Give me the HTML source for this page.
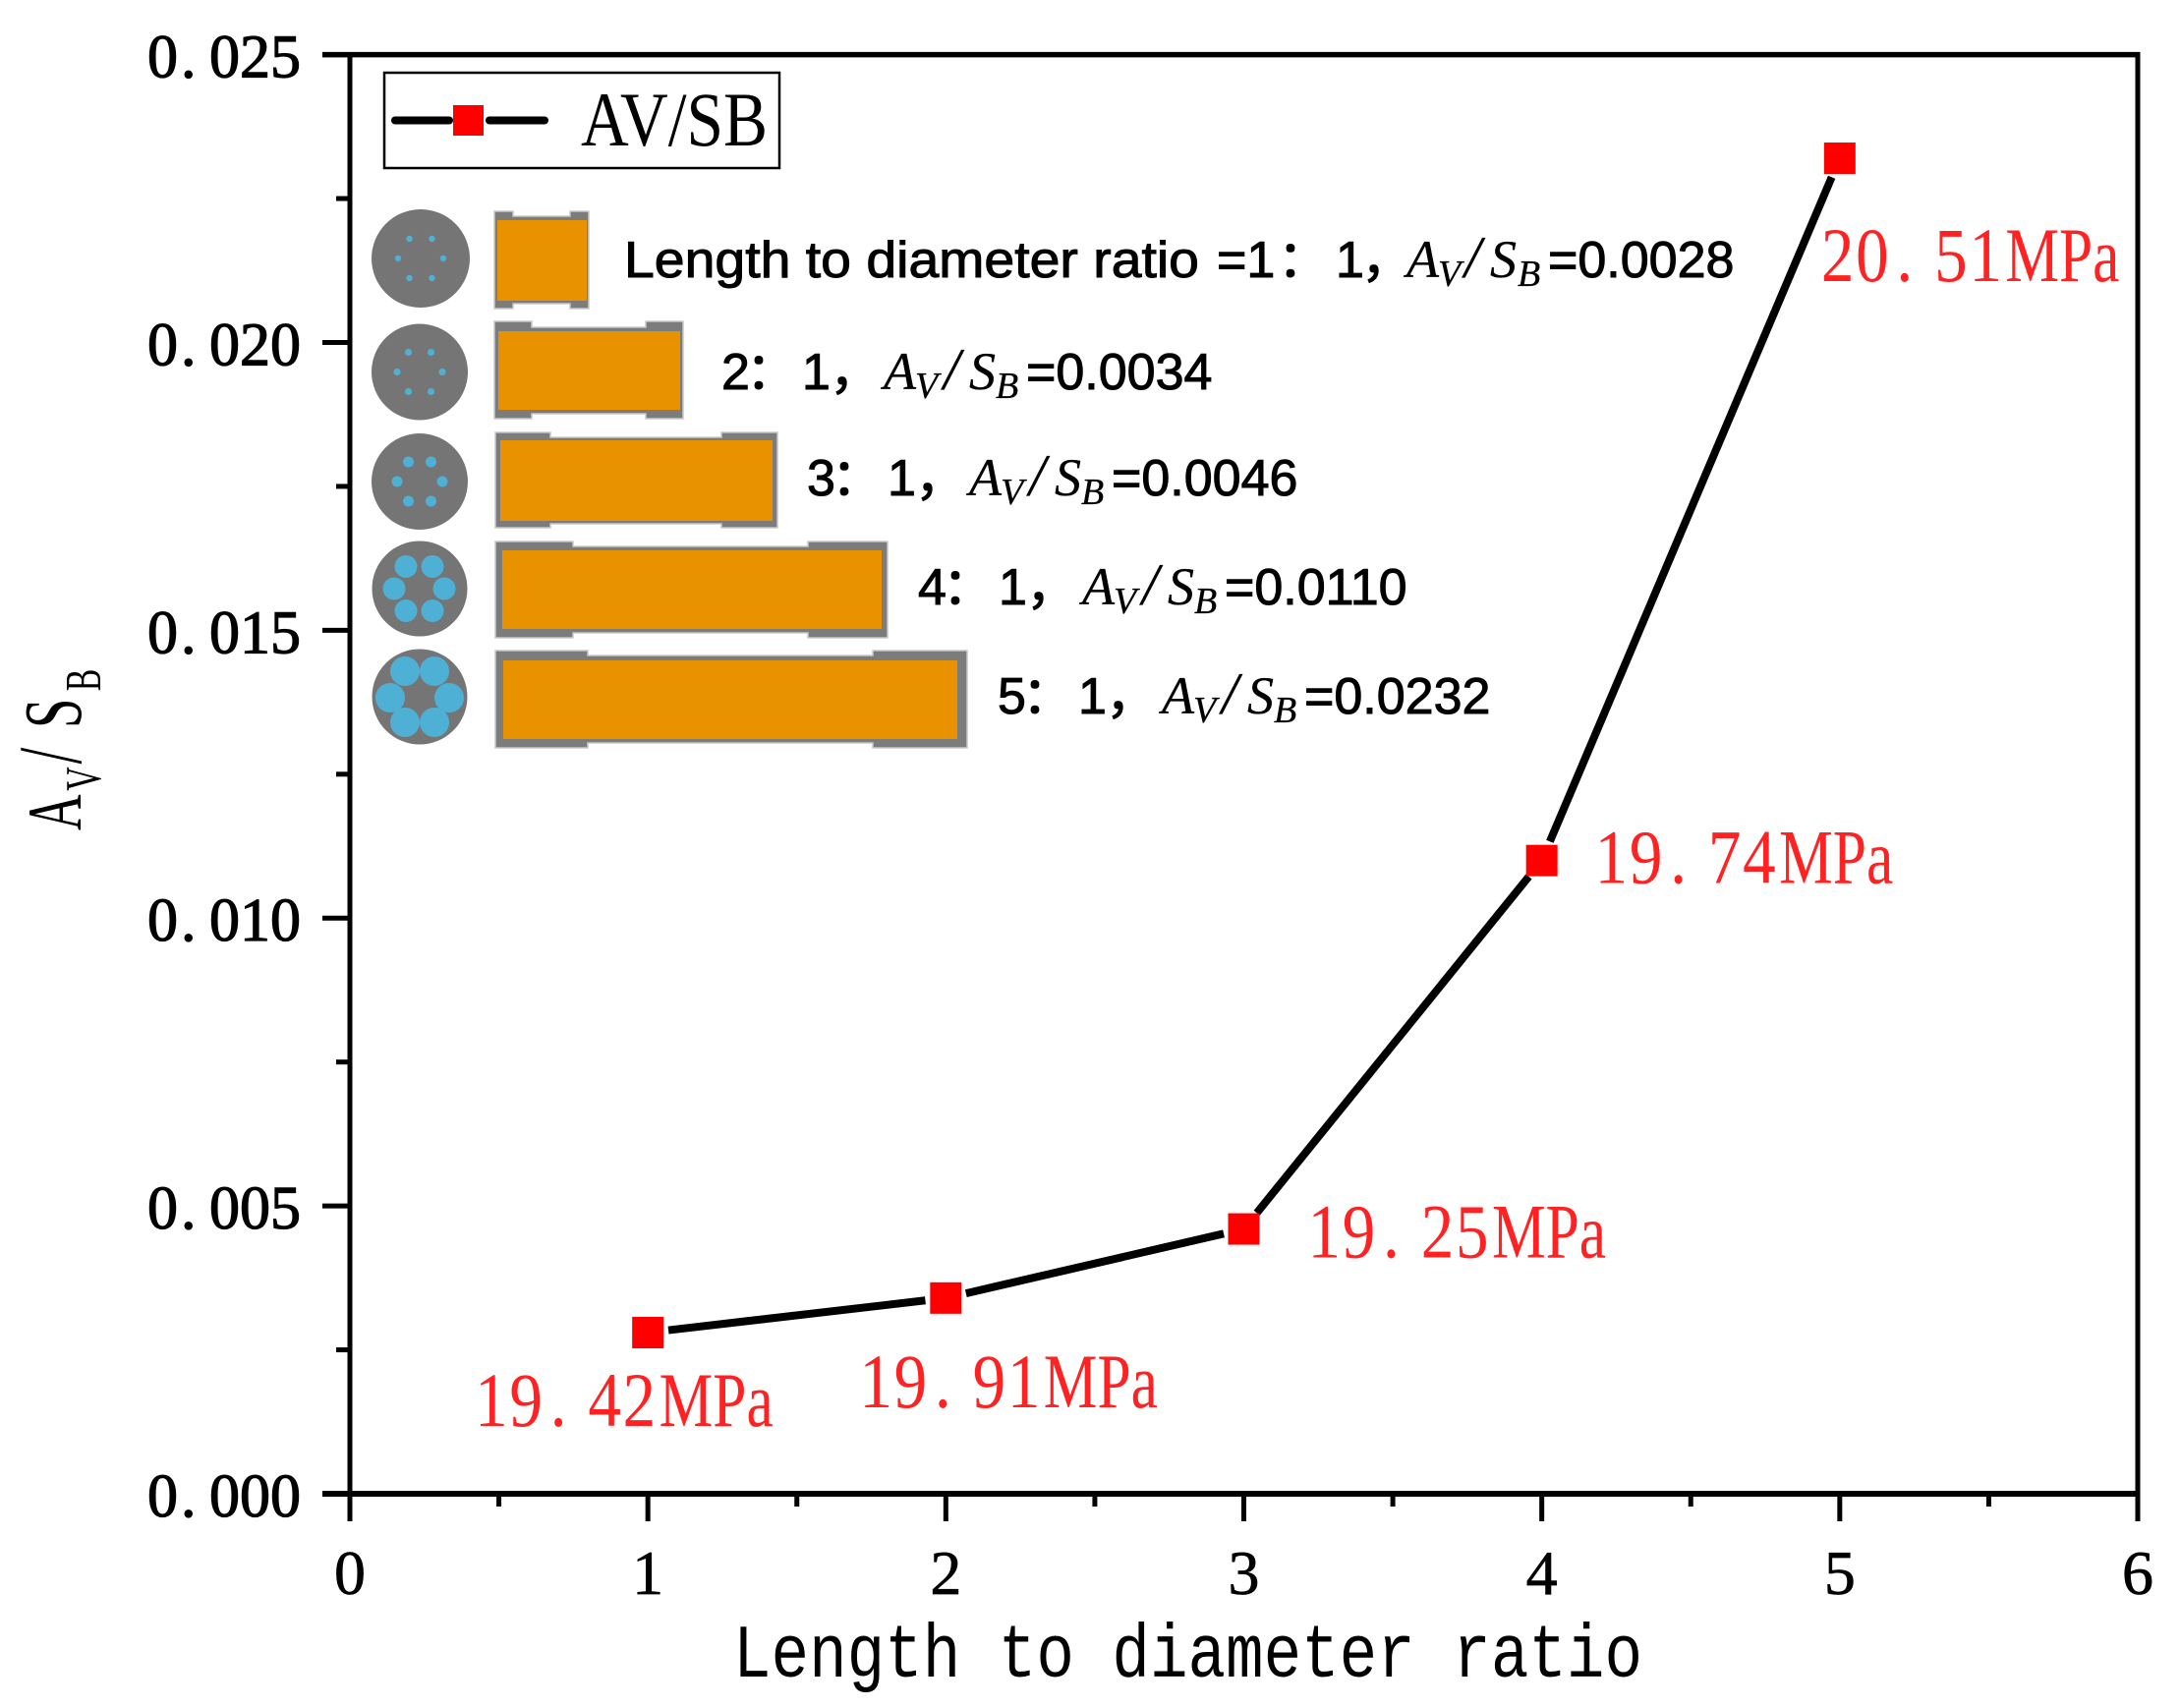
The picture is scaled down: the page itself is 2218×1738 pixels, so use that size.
<!DOCTYPE html>
<html lang="en">
<head>
<meta charset="utf-8">
<title>AV/SB vs length to diameter ratio</title>
<style>
html,body{margin:0;padding:0;background:#fff;width:2218px;height:1738px;overflow:hidden}
svg{display:block}
.serif{font-family:"Liberation Serif","Noto Serif CJK SC",serif}
.sans{font-family:"Liberation Sans","Noto Sans CJK SC",sans-serif;font-size:52px;fill:#000;stroke:#000;stroke-width:1px}
.math{font-family:"Liberation Serif",serif;font-style:italic;stroke-width:.3px}
</style>
</head>
<body>
<svg id="chart" xmlns="http://www.w3.org/2000/svg" width="2218" height="1738" viewBox="0 0 2218 1738">
  <rect x="0" y="0" width="2218" height="1738" fill="#fff"/>

  <g id="axes"></g>

  <g>
    <rect x="391" y="74" width="402" height="97" fill="#fff" stroke="#000" stroke-width="2.5"/>
    <line x1="402" y1="122.5" x2="457" y2="122.5" stroke="#000" stroke-width="8" stroke-linecap="round"/>
    <line x1="498" y1="122.5" x2="554" y2="122.5" stroke="#000" stroke-width="8" stroke-linecap="round"/>
    <rect x="461" y="107" width="31" height="31" fill="#f00"/>
    <text class="serif" x="591" y="148" font-size="78" textLength="190" lengthAdjust="spacingAndGlyphs">AV/SB</text>
  </g>

  <g>
    <g>
      <circle cx="428" cy="263" r="50" fill="#757575"/>
      <g transform="translate(428,263)" fill="#4fb0d6">
        <circle cx="-11.5" cy="-20" r="3.2"/><circle cx="11.5" cy="-20" r="3.2"/><circle cx="-23" cy="0" r="3.2"/><circle cx="23" cy="0" r="3.2"/><circle cx="-11.5" cy="20" r="3.2"/><circle cx="11.5" cy="20" r="3.2"/>
      </g>
      <path d="M503 215H522V220H580V215H599V314H580V309H522V314H503Z" fill="#7c7c7c" stroke="#c8c8c8" stroke-width="1.5"/>
      <rect x="506" y="224" width="91" height="82" fill="#e89200"/>
    </g>
    <g>
      <circle cx="427" cy="378.5" r="49" fill="#757575"/>
      <g transform="translate(427,378.5)" fill="#4fb0d6">
        <circle cx="-11.5" cy="-20" r="3.6"/><circle cx="11.5" cy="-20" r="3.6"/><circle cx="-23" cy="0" r="3.6"/><circle cx="23" cy="0" r="3.6"/><circle cx="-11.5" cy="20" r="3.6"/><circle cx="11.5" cy="20" r="3.6"/>
      </g>
      <path d="M503 327H541V333H657V327H695V426H657V421H541V426H503Z" fill="#7c7c7c" stroke="#c8c8c8" stroke-width="1.5"/>
      <rect x="507" y="337" width="185" height="80" fill="#e89200"/>
    </g>
    <g>
      <circle cx="427" cy="490" r="49" fill="#757575"/>
      <g transform="translate(427,490)" fill="#4fb0d6">
        <circle cx="-11.5" cy="-20" r="5.5"/><circle cx="11.5" cy="-20" r="5.5"/><circle cx="-23" cy="0" r="5.5"/><circle cx="23" cy="0" r="5.5"/><circle cx="-11.5" cy="20" r="5.5"/><circle cx="11.5" cy="20" r="5.5"/>
      </g>
      <path d="M504 440H560V445H734V440H791V537H734V533H560V537H504Z" fill="#7c7c7c" stroke="#c8c8c8" stroke-width="1.5"/>
      <rect x="509" y="448" width="277" height="82" fill="#e89200"/>
    </g>
    <g>
      <circle cx="427" cy="599" r="48.5" fill="#757575"/>
      <g transform="translate(427,599)" fill="#4fb0d6">
        <circle cx="-14" cy="-22.5" r="11.5"/><circle cx="13" cy="-22.5" r="11.5"/><circle cx="-26" cy="0" r="11.5"/><circle cx="25" cy="0" r="11.5"/><circle cx="-14" cy="22.5" r="11.5"/><circle cx="13" cy="22.5" r="11.5"/>
      </g>
      <path d="M504 551H583V556H822V551H903V649H822V644H583V649H504Z" fill="#7c7c7c" stroke="#c8c8c8" stroke-width="1.5"/>
      <rect x="511" y="560" width="386" height="80" fill="#e89200"/>
    </g>
    <g>
      <circle cx="427" cy="709" r="48.5" fill="#757575"/>
      <g transform="translate(427,709)" fill="#4fb0d6">
        <circle cx="-15" cy="-26" r="15"/><circle cx="15" cy="-26" r="15"/><circle cx="-30" cy="1" r="15"/><circle cx="30" cy="1" r="15"/><circle cx="-15" cy="26" r="15"/><circle cx="15" cy="26" r="15"/>
      </g>
      <path d="M504 662H598V667H888V662H984V761H888V756H598V761H504Z" fill="#7c7c7c" stroke="#c8c8c8" stroke-width="1.5"/>
      <rect x="512" y="672" width="462" height="80" fill="#e89200"/>
    </g>

    <text class="sans" y="282"><tspan x="635" textLength="585" lengthAdjust="spacingAndGlyphs">Length to diameter ratio</tspan><tspan x="1238">=1</tspan><tspan x="1300">：</tspan><tspan x="1359">1</tspan><tspan x="1385">，</tspan><tspan class="math" x="1431" font-size="54">A</tspan><tspan class="math" x="1463" y="291" font-size="38">V</tspan><tspan class="math" x="1490" y="282" font-size="60">/</tspan><tspan class="math" x="1516" font-size="54">S</tspan><tspan class="math" x="1544" y="291" font-size="38">B</tspan><tspan x="1575" y="282">=0.0028</tspan></text>
    <text class="sans" y="396"><tspan x="734">2</tspan><tspan x="759">：</tspan><tspan x="816">1</tspan><tspan x="844">，</tspan><tspan class="math" x="899" font-size="54">A</tspan><tspan class="math" x="931" y="405" font-size="38">V</tspan><tspan class="math" x="960" y="396" font-size="60">/</tspan><tspan class="math" x="986" font-size="54">S</tspan><tspan class="math" x="1013" y="405" font-size="38">B</tspan><tspan x="1044" y="396">=0.0034</tspan></text>
    <text class="sans" y="504"><tspan x="821">3</tspan><tspan x="846">：</tspan><tspan x="903">1</tspan><tspan x="931">，</tspan><tspan class="math" x="986" font-size="54">A</tspan><tspan class="math" x="1018" y="513" font-size="38">V</tspan><tspan class="math" x="1047" y="504" font-size="60">/</tspan><tspan class="math" x="1073" font-size="54">S</tspan><tspan class="math" x="1100" y="513" font-size="38">B</tspan><tspan x="1131" y="504">=0.0046</tspan></text>
    <text class="sans" y="615"><tspan x="934">4</tspan><tspan x="959">：</tspan><tspan x="1016">1</tspan><tspan x="1044">，</tspan><tspan class="math" x="1101" font-size="54">A</tspan><tspan class="math" x="1133" y="624" font-size="38">V</tspan><tspan class="math" x="1162" y="615" font-size="60">/</tspan><tspan class="math" x="1188" font-size="54">S</tspan><tspan class="math" x="1215" y="624" font-size="38">B</tspan><tspan x="1246" y="615">=0.0110</tspan></text>
    <text class="sans" y="726"><tspan x="1015">5</tspan><tspan x="1040">：</tspan><tspan x="1097">1</tspan><tspan x="1125">，</tspan><tspan class="math" x="1182" font-size="54">A</tspan><tspan class="math" x="1214" y="735" font-size="38">V</tspan><tspan class="math" x="1243" y="726" font-size="60">/</tspan><tspan class="math" x="1269" font-size="54">S</tspan><tspan class="math" x="1296" y="735" font-size="38">B</tspan><tspan x="1327" y="726">=0.0232</tspan></text>
  </g>

  <g id="series"></g>

  <text font-family="'Liberation Mono',monospace" x="746" y="1706" font-size="77" textLength="925" lengthAdjust="spacingAndGlyphs">Length to diameter ratio</text>
  <text class="serif" transform="translate(82,845) rotate(-90) scale(.65,1)" font-size="78"><tspan x="0">A</tspan><tspan x="62" y="20" font-size="52">V</tspan><tspan x="104" y="0" font-size="92">/</tspan><tspan x="160" y="0" font-size="84">S</tspan><tspan x="218" y="20" font-size="52">B</tspan></text>
</svg>

<script>
// ---- chart data ----
const categories = [1, 2, 3, 4, 5];
const avSbValues = [0.0028, 0.0034, 0.0046, 0.0110, 0.0232];
const pressureLabels = ["19.42", "19.91", "19.25", "19.74", "20.51"];
const xTicks = [0, 1, 2, 3, 4, 5, 6];
const xMinorTicks = [0.5, 1.5, 2.5, 3.5, 4.5, 5.5];
const yTicks = [0, 0.005, 0.01, 0.015, 0.02, 0.025];
const yTickLabels = ["0.000", "0.005", "0.010", "0.015", "0.020", "0.025"];
const yMinorTicks = [0.0025, 0.0075, 0.0125, 0.0175, 0.0225];
const xDomain = [0, 6];
const yDomain = [0, 0.025];

const NS = "http://www.w3.org/2000/svg";
const PLOT = { left: 356, right: 2175, top: 55.6, bottom: 1520 };
const xScale = v => PLOT.left + (v - xDomain[0]) / (xDomain[1] - xDomain[0]) * (PLOT.right - PLOT.left);
const yScale = v => PLOT.bottom - (v - yDomain[0]) / (yDomain[1] - yDomain[0]) * (PLOT.bottom - PLOT.top);

function make(tag, attrs, parent) {
  const el = document.createElementNS(NS, tag);
  for (const k in attrs) el.setAttribute(k, attrs[k]);
  parent.appendChild(el);
  return el;
}

const axes = document.getElementById("axes");
const series = document.getElementById("series");

// axis frame
const topAxis = make("line", { x1: 328, y1: PLOT.top, x2: PLOT.right + 2.5, y2: PLOT.top, stroke: "#000", "stroke-width": 5.5 }, axes);


const rightAxis = make("line", { x1: PLOT.right, y1: PLOT.top, x2: PLOT.right, y2: PLOT.bottom, stroke: "#000", "stroke-width": 5 }, axes);


const leftAxis = make("line", { x1: PLOT.left, y1: PLOT.top, x2: PLOT.left, y2: PLOT.bottom, stroke: "#000", "stroke-width": 5 }, axes);


const bottomAxis = make("line", { x1: 328, y1: PLOT.bottom, x2: PLOT.right + 2.5, y2: PLOT.bottom, stroke: "#000", "stroke-width": 6 }, axes);



// x ticks
xTicks.forEach(v => {
  const px = xScale(v);
  const tick = make("line", { x1: px, y1: PLOT.bottom, x2: px, y2: 1548, stroke: "#000", "stroke-width": 5 }, axes);
  
  
  const label = make("text", { x: px, y: 1622, "text-anchor": "middle", "font-size": 64, stroke: "#000", "stroke-width": 0.7, class: "serif" }, axes);
  
  
  label.textContent = String(v);
});
xMinorTicks.forEach(v => {
  const px = xScale(v);
  const tick = make("line", { x1: px, y1: PLOT.bottom, x2: px, y2: 1533, stroke: "#000", "stroke-width": 5 }, axes);
  
  
});

// y ticks
yTicks.forEach((v, i) => {
  const py = yScale(v);
  const tick = make("line", { x1: 328, y1: py, x2: PLOT.left, y2: py, stroke: "#000", "stroke-width": 5 }, axes);
  
  
  const cells = [0, 34, 63, 94, 125];
  const label = make("text", { y: py + 23, "font-size": 62, stroke: "#000", "stroke-width": 1.2, class: "serif", x: cells.map(c => 150 + c).join(" ") }, axes);
  
  
  label.textContent = yTickLabels[i];
});
yMinorTicks.forEach(v => {
  const py = yScale(v);
  const tick = make("line", { x1: 342, y1: py, x2: PLOT.left, y2: py, stroke: "#000", "stroke-width": 5 }, axes);
  
  
});

// series segments, trimmed around each marker
const gap = 21;
for (let i = 0; i < categories.length - 1; i++) {
  const x1 = xScale(categories[i]), y1 = yScale(avSbValues[i]);
  const x2 = xScale(categories[i + 1]), y2 = yScale(avSbValues[i + 1]);
  const len = Math.hypot(x2 - x1, y2 - y1) || 1;
  const ux = (x2 - x1) / len, uy = (y2 - y1) / len;
  const seg = make("line", { x1: x1 + ux * gap, y1: y1 + uy * gap, x2: x2 - ux * gap, y2: y2 - uy * gap, stroke: "#000", "stroke-width": 8 }, series);
  
  
}

// markers and pressure labels
const labelOffsets = [[-176, 95], [-88, 111], [65, 29], [54, 23], [-19, 125]];
const MARKER = 32;
const SX = 0.86;
categories.forEach((c, i) => {
  const px = xScale(c), py = yScale(avSbValues[i]);
  const marker = make("rect", { x: px - MARKER / 2, y: py - MARKER / 2, width: MARKER, height: MARKER, fill: "#f00" }, series);
  
  

  const label = make("text", { transform: `translate(${px + labelOffsets[i][0]},${py + labelOffsets[i][1]}) scale(${SX},1)`, "font-size": 78, fill: "#f22", class: "serif" }, series);
  
  
  const digits = make("tspan", { x: [0, 41, 89, 134, 175].join(" ") }, label);
  digits.textContent = pressureLabels[i];
  const unit = make("tspan", { x: 218, textLength: 135, lengthAdjust: "spacingAndGlyphs" }, label);
  unit.textContent = "MPa";
});
</script>
</body>
</html>
